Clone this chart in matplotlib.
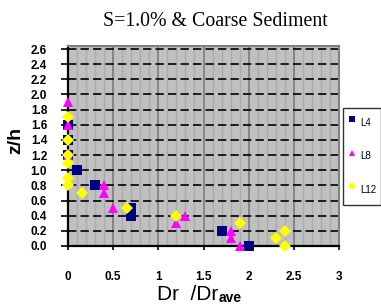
import matplotlib
matplotlib.use("Agg")
import matplotlib.pyplot as plt
from matplotlib.ticker import MultipleLocator

plt.rcParams['font.family'] = ['Liberation Sans', 'DejaVu Sans']

# valores
l4_x = [0, 0, 0, 0.1, 0.3, 0.7, 0.7, 1.7, 2.0]
l4_z = [1.6, 1.4, 1.2, 1.0, 0.8, 0.5, 0.4, 0.2, 0.0]

l8_x = [0, 0, 0, 0.4, 0.4, 0.5, 1.2, 1.3, 1.8, 1.8, 1.9]
l8_z = [1.9, 1.6, 1.2, 0.8, 0.7, 0.5, 0.3, 0.4, 0.2, 0.1, 0.0]

l12_x = [0, 0, 0, 0, 0, 0, 0.15, 0.65, 1.2, 1.9, 2.4, 2.3, 2.4]
l12_z = [1.7, 1.4, 1.2, 1.1, 0.9, 0.8, 0.7, 0.5, 0.4, 0.3, 0.2, 0.1, 0.0]

series = [
    ("L4", l4_x, l4_z, "s", "#000080", 7),
    ("L8", l8_x, l8_z, "^", "#FF00FF", 7.5),
    ("L12", l12_x, l12_z, "D", "#FFFF00", 6),
]

W, H = 381, 306
fig = plt.figure(figsize=(W / 100, H / 100), dpi=100)
ax = fig.add_axes([68 / W, 1 - 246 / H, (339 - 68) / W, (246 - 46) / H])
ax.set_facecolor("#C0C0C0")

for label, xs, zs, mk, col, ms in series:
    ax.plot(xs, zs, linestyle="none", marker=mk, color=col, markersize=ms,
            markeredgewidth=0, label=label, clip_on=False, zorder=5)

ax.set_xlim(0, 3)
ax.set_ylim(0, 2.64)
ax.xaxis.set_minor_locator(MultipleLocator(0.1))
ax.set_xticks([0, 0.5, 1, 1.5, 2, 2.5, 3])
ax.set_xticklabels(["0", "0.5", "1", "1.5", "2", "2.5", "3"])
ax.set_yticks([i * 0.2 for i in range(14)])
ax.set_yticklabels(["%.1f" % (i * 0.2) for i in range(14)])

ax.grid(which="minor", axis="x", color="#ABABAB", linewidth=1)
ax.grid(which="major", axis="x", color="#808080", linewidth=1.3)
ax.grid(which="major", axis="y", color="black", linewidth=1.2, linestyle=(0, (5, 2.5)))
ax.set_axisbelow(True)

for s in ["top", "right"]:
    ax.spines[s].set_color("#808080")
    ax.spines[s].set_linewidth(1.5)
for s in ["left", "bottom"]:
    ax.spines[s].set_color("black")
    ax.spines[s].set_linewidth(1.6)

ax.tick_params(axis="x", which="major", length=3, width=1.2, pad=15,
               labelsize=8.5)
ax.tick_params(axis="x", which="minor", length=0)
ax.tick_params(axis="y", length=5, width=1.2, pad=10, labelsize=8.5)
for t in ax.get_xticklabels() + ax.get_yticklabels():
    t.set_fontweight("bold")

fig.text(215 / W, 1 - 21 / H, "S=1.0% & Coarse Sediment", ha="center",
         va="center", fontsize=14.3, family="Liberation Serif")
fig.text(16 / W, 1 - 140 / H, "z/h", rotation=90, ha="center", va="center",
         fontsize=14, fontweight="bold")
fig.text(157 / W, 6 / H, "Dr  /Dr", ha="left", va="baseline", fontsize=15)
fig.text(219 / W, 4 / H, "ave", ha="left", va="baseline", fontsize=10,
         fontweight="bold")

leg = fig.legend(loc="upper left", bbox_to_anchor=(343 / W, 1 - 108 / H),
                 fontsize=7, frameon=True, fancybox=False, markerscale=0.65,
                 handlelength=0.8, handleheight=2.9, handletextpad=0.45,
                 labelspacing=1.3, borderpad=0.5, borderaxespad=0)
leg.get_frame().set_edgecolor("black")
leg.get_frame().set_linewidth(1)

fig.savefig("out.png", dpi=100)
